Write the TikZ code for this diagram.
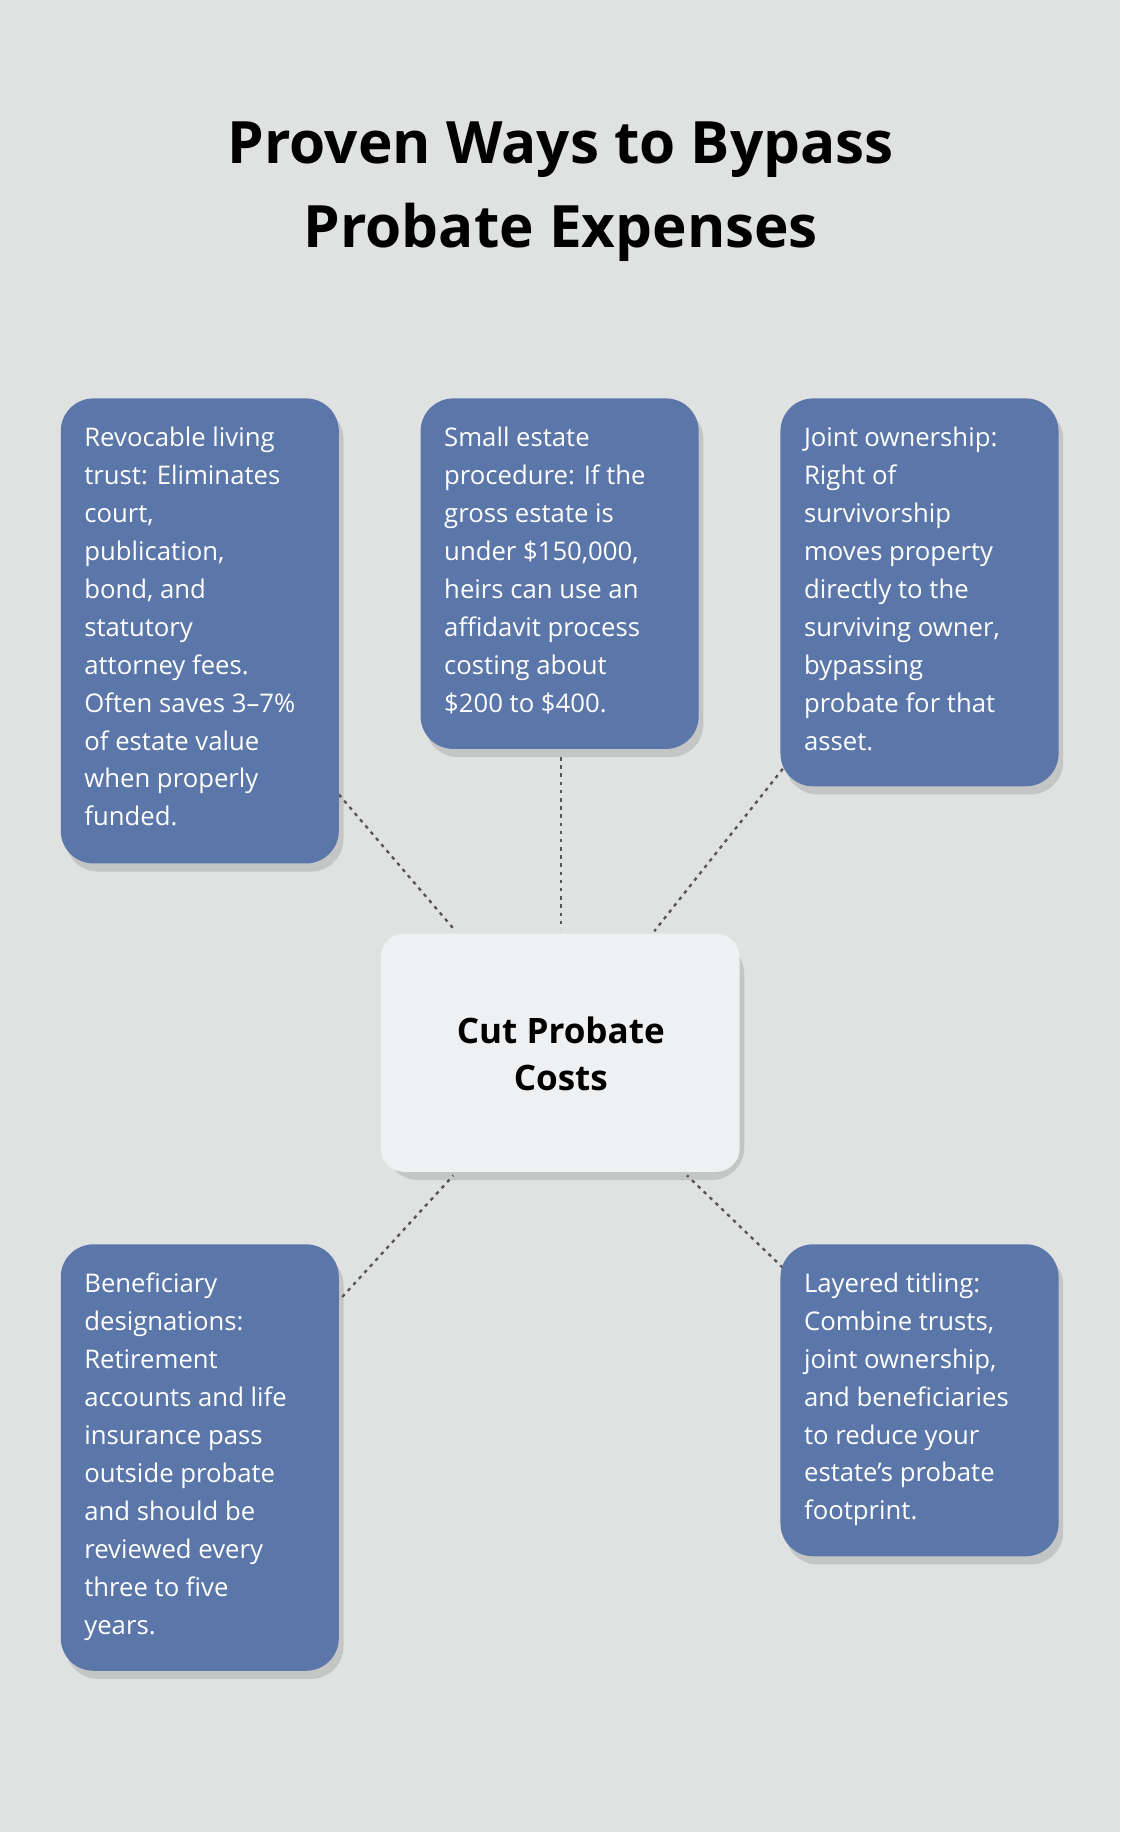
\documentclass[tikz,border=0pt]{standalone}
\usepackage{fontspec}
\setmainfont{Open Sans}
\definecolor{bg}{HTML}{E0E1E1}
\definecolor{boxblue}{HTML}{5B76A8}
\definecolor{ctr}{HTML}{EFF0F2}
\definecolor{conn}{HTML}{555555}
\begin{document}
\begin{tikzpicture}[x=1pt,y=-1pt,
  card/.style={fill=boxblue,rounded corners=28pt},
  shade/.style={fill=black,opacity=0.12,rounded corners=28pt},
  txt/.style={anchor=north west,inner sep=0pt,align=left,text=white,font=\fontsize{22}{32.5}\selectfont},
  link/.style={draw=conn,line width=2pt,dash pattern=on 3pt off 4pt}]
\fill[bg] (0,0) rectangle (959,1568);
\useasboundingbox (0,0) rectangle (959,1568);
\node[font=\fontsize{50}{72}\bfseries\selectfont,align=center] (title) at (480,164) {Proven Ways to Bypass\\Probate Expenses};
% shadows
\foreach \a/\b/\c/\d in {52/341/290/739,360/341/598/641,668/341/906/673,52/1065/290/1430,668/1065/906/1332}
  \fill[shade] (\a+4,\b+7) rectangle (\c+4,\d+7);
\fill[shade] (330,806) rectangle (637,1010);
% connectors
\coordinate (c1) at (290,680); \coordinate (d1) at (390,797);
\coordinate (c2) at (480,648); \coordinate (d2) at (480,795);
\coordinate (c3) at (670,658); \coordinate (d3) at (560,797);
\coordinate (c4) at (293,1110); \coordinate (d4) at (388,1006);
\coordinate (c5) at (670,1085); \coordinate (d5) at (588,1006);
\foreach \i in {1,...,5} \draw[link] (c\i) -- (d\i);
% cards
\fill[card] (52,341) rectangle (290,739);
\fill[card] (360,341) rectangle (598,641);
\fill[card] (668,341) rectangle (906,673);
\fill[card] (52,1065) rectangle (290,1430);
\fill[card] (668,1065) rectangle (906,1332);
\fill[ctr,rounded corners=20pt] (326,799) rectangle (633,1003);
\node[font=\fontsize{30}{41}\bfseries\selectfont,align=center] (center) at (480,902) {Cut Probate\\Costs};
\node[txt] (t1) at (72,365) {Revocable living\\trust: Eliminates\\court,\\publication,\\bond, and\\statutory\\attorney fees.\\Often saves 3–7\%\\of estate value\\when properly\\funded.};
\node[txt] (t2) at (380,365) {Small estate\\procedure: If the\\gross estate is\\under \$150,000,\\heirs can use an\\affidavit process\\costing about\\\$200 to \$400.};
\node[txt] (t3) at (688,365) {Joint ownership:\\Right of\\survivorship\\moves property\\directly to the\\surviving owner,\\bypassing\\probate for that\\asset.};
\node[txt] (t4) at (72,1089) {Beneficiary\\designations:\\Retirement\\accounts and life\\insurance pass\\outside probate\\and should be\\reviewed every\\three to five\\years.};
\node[txt] (t5) at (688,1089) {Layered titling:\\Combine trusts,\\joint ownership,\\and beneficiaries\\to reduce your\\estate’s probate\\footprint.};
\end{tikzpicture}
\end{document}
